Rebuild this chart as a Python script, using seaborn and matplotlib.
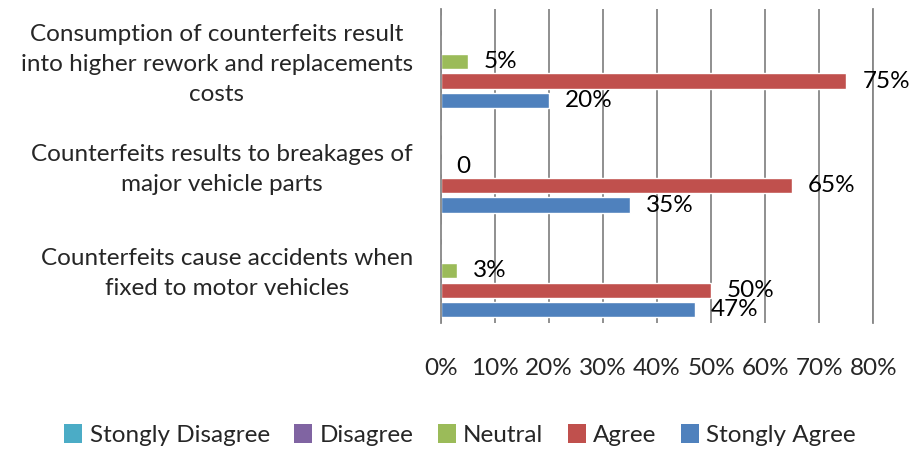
import matplotlib

matplotlib.use("Agg")

import pandas as pd
import matplotlib.pyplot as plt
import matplotlib.patches as mpatches
import matplotlib.ticker as mticker
import matplotlib.transforms as mtransforms
import seaborn as sns

statements = [
    "Consumption of counterfeits result\ninto higher rework and replacements\ncosts",
    "Counterfeits results to breakages of\nmajor vehicle parts",
    "Counterfeits cause accidents when\nfixed to motor vehicles",
]
responses = ["Stongly Disagree", "Disagree", "Neutral", "Agree", "Stongly Agree"]
strongly_disagree = [0, 0, 0]
disagree = [0, 0, 0]
neutral = [5, 0, 3]
agree = [75, 65, 50]
strongly_agree = [20, 35, 47]
neutral_labels = ["5%", "0", "3%"]
x_ticks = [0, 10, 20, 30, 40, 50, 60, 70, 80]

colors = ["#4BACC6", "#8064A2", "#9BBB59", "#C0504D", "#4F81BD"]

series = [strongly_disagree, disagree, neutral, agree, strongly_agree]
rows = []
for resp, vals in zip(responses, series):
    for stmt, v in zip(statements, vals):
        rows.append({"statement": stmt, "response": resp, "value": v})
df = pd.DataFrame(rows)

sns.set_style("white")
plt.rcParams["font.family"] = ["Lato", "DejaVu Sans"]
font_size = 17.5

fig = plt.figure(figsize=(9.11, 4.49), dpi=100)
ax = fig.add_axes([0.4838, 0.2806, 0.4749, 0.6985])

sns.barplot(
    data=df,
    x="value",
    y="statement",
    hue="response",
    hue_order=responses,
    order=statements,
    palette=colors,
    orient="h",
    width=0.931,
    gap=0.215,
    saturation=1,
    legend=False,
    ax=ax,
)

# data labels, only for the series that show them
for i, cont in enumerate(ax.containers):
    resp = responses[i]
    if resp == "Neutral":
        labels = neutral_labels
    elif resp == "Agree":
        labels = [f"{v}%" for v in agree]
    elif resp == "Stongly Agree":
        labels = [f"{v}%" for v in strongly_agree]
    else:
        continue
    ax.bar_label(cont, labels=labels, padding=11.5, fontsize=font_size, color="black")

ax.set_xlim(0, 80)
ax.set_xticks(x_ticks)
ax.xaxis.set_major_formatter(mticker.PercentFormatter(decimals=0))
ax.xaxis.grid(True, color="#878787", linewidth=1.3)
ax.yaxis.grid(False)
ax.set_axisbelow(True)
for side in ["top", "bottom"]:
    ax.spines[side].set_visible(False)
for side in ["left", "right"]:
    ax.spines[side].set_color("#878787")
    ax.spines[side].set_linewidth(1.3)

ax.tick_params(axis="x", length=0, pad=25, labelsize=font_size)
ax.tick_params(axis="y", length=0, labelleft=False)
ax.set_xlabel("")
ax.set_ylabel("")

# category labels drawn as centred multi-line text left of the axis
trans = mtransforms.blended_transform_factory(ax.transAxes, ax.transData)
for pos, stmt in zip(ax.get_yticks(), statements):
    ax.text(
        -0.064, pos + 0.03, stmt,
        transform=trans,
        ha="right", va="center",
        multialignment="center",
        linespacing=1.52,
        fontsize=font_size,
    )

handles = [mpatches.Patch(facecolor=c, edgecolor="none") for c in colors]
fig.legend(
    handles,
    responses,
    loc="center",
    bbox_to_anchor=(0.505, 0.031),
    ncol=5,
    frameon=False,
    fontsize=font_size,
    handlelength=0.75,
    handleheight=0.8,
    handletextpad=0.3,
    columnspacing=1.0,
)

fig.savefig("out.png", dpi=100)
